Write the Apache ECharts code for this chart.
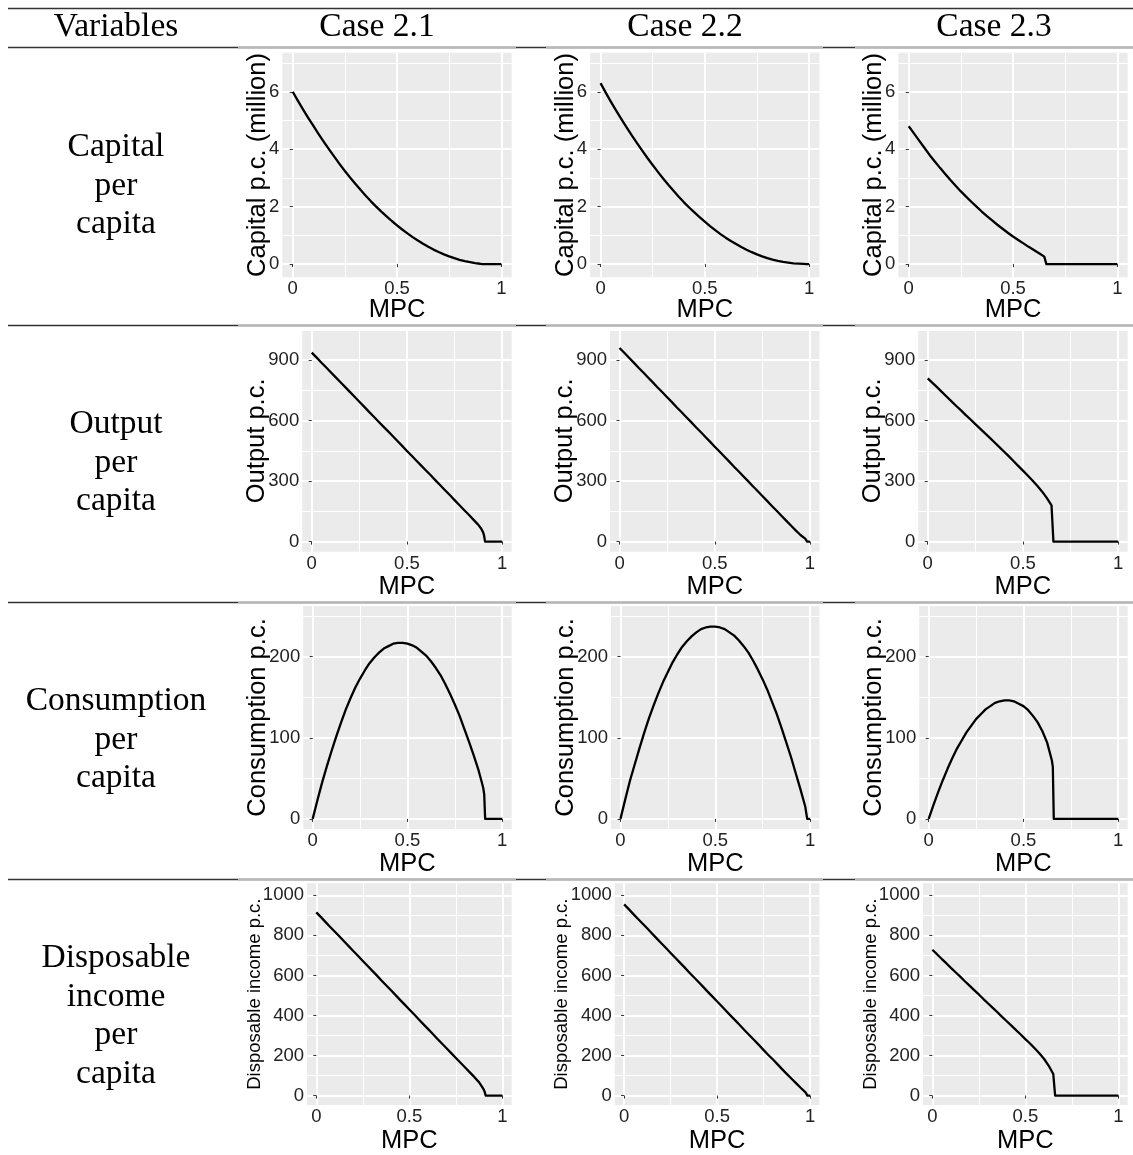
<!DOCTYPE html>
<html><head><meta charset="utf-8">
<script src="https://cdn.jsdelivr.net/npm/echarts@6/dist/echarts.min.js"></script>
<style>html,body{margin:0;padding:0;background:#fff;}#c{width:1133px;height:1155px;}</style>
</head><body><div id="c"></div>
<script>
// ---------- data ----------
const caseNames = ['Case 2.1', 'Case 2.2', 'Case 2.3'];
const headerLabel = 'Variables';
const variableLabels = [['Capital', 'per', 'capita'], ['Output', 'per', 'capita'], ['Consumption', 'per', 'capita'], ['Disposable', 'income', 'per', 'capita']];
const yTitles = ['Capital p.c. (million)', 'Output p.c.', 'Consumption p.c.', 'Disposable income p.c.'];
const xTitle = 'MPC';
const xTicks = [0, 0.5, 1];
const xMinorTicks = [0.25, 0.75];
const yTicks = [[0, 2, 4, 6], [0, 300, 600, 900], [0, 100, 200], [0, 200, 400, 600, 800, 1000]];
const yMinorTicks = [[1, 3, 5, 7], [150, 450, 750, 1050], [50, 150, 250], [100, 300, 500, 700, 900]];

// Case 2.1
const mpc21 = [0, 0.025, 0.05, 0.075, 0.1, 0.125, 0.15, 0.175, 0.2, 0.225, 0.25, 0.275, 0.3, 0.325, 0.35, 0.375, 0.4, 0.425, 0.45, 0.475, 0.5, 0.525, 0.55, 0.575, 0.6, 0.625, 0.65, 0.675, 0.7, 0.725, 0.75, 0.775, 0.8, 0.825, 0.85, 0.875, 0.89, 0.9, 0.905, 0.91, 0.95, 1];
const capital21 = [6.0, 5.685, 5.38, 5.085, 4.8, 4.52, 4.25, 3.985, 3.73, 3.48, 3.24, 3.015, 2.8, 2.585, 2.38, 2.185, 2.0, 1.825, 1.66, 1.5, 1.35, 1.205, 1.07, 0.94, 0.82, 0.705, 0.6, 0.505, 0.42, 0.34, 0.27, 0.205, 0.15, 0.105, 0.07, 0.035, 0.02, 0.01, 0.005, 0, 0, 0];
const output21 = [938, 914, 889, 865, 840, 816, 792, 768, 743, 719, 694, 670, 645, 621, 596, 572, 548, 524, 499, 475, 450, 426, 401, 377, 353, 329, 304, 280, 255, 231, 206, 182, 157, 133, 108, 83, 64, 46, 30, 0, 0, 0];
const consumption21 = [0, 23, 45, 65, 84, 102, 119, 135, 149, 162, 173, 183, 192, 199, 205, 210, 213, 216, 217, 217, 216, 214, 211, 206, 201, 194, 186, 177, 166, 154, 141, 127, 111, 95, 78, 60, 47, 38, 30, 0, 0, 0];
const disposable21 = [915, 891, 866, 842, 818, 794, 769, 745, 721, 697, 672, 648, 624, 600, 575, 551, 527, 503, 478, 454, 430, 406, 381, 357, 333, 309, 284, 260, 236, 212, 188, 164, 140, 116, 92, 66, 45, 30, 18, 0, 0, 0];

// Case 2.2
const mpc22 = [0, 0.025, 0.05, 0.075, 0.1, 0.125, 0.15, 0.175, 0.2, 0.225, 0.25, 0.275, 0.3, 0.325, 0.35, 0.375, 0.4, 0.425, 0.45, 0.475, 0.5, 0.525, 0.55, 0.575, 0.6, 0.625, 0.65, 0.675, 0.7, 0.725, 0.75, 0.775, 0.8, 0.825, 0.85, 0.875, 0.9, 0.925, 0.95, 0.975, 0.985, 1];
const capital22 = [6.3, 5.97, 5.65, 5.345, 5.05, 4.76, 4.48, 4.21, 3.95, 3.695, 3.45, 3.21, 2.98, 2.76, 2.55, 2.345, 2.15, 1.97, 1.8, 1.635, 1.48, 1.325, 1.18, 1.045, 0.92, 0.805, 0.7, 0.595, 0.5, 0.415, 0.34, 0.27, 0.21, 0.155, 0.11, 0.075, 0.05, 0.028, 0.015, 0.004, 0, 0];
const output22 = [961, 937, 912, 888, 863, 839, 814, 790, 765, 741, 716, 692, 667, 643, 618, 594, 569, 545, 520, 496, 471, 447, 422, 398, 373, 349, 324, 300, 275, 251, 226, 202, 177, 153, 128, 104, 80, 56, 33, 15, 0, 0];
const consumption22 = [0, 24, 47, 67, 87, 106, 124, 140, 155, 169, 181, 193, 203, 212, 219, 225, 230, 234, 236, 237, 237, 236, 234, 230, 226, 220, 213, 205, 195, 184, 172, 159, 144, 129, 112, 94, 76, 56, 36, 15, 0, 0];
const disposable22 = [955, 931, 906, 882, 858, 834, 809, 785, 761, 737, 712, 688, 664, 640, 615, 591, 567, 543, 518, 494, 470, 446, 421, 397, 373, 349, 324, 300, 276, 252, 227, 203, 180, 156, 131, 107, 84, 61, 38, 16, 0, 0];

// Case 2.3
const mpc23 = [0, 0.025, 0.05, 0.075, 0.1, 0.125, 0.15, 0.175, 0.2, 0.225, 0.25, 0.275, 0.3, 0.325, 0.35, 0.375, 0.4, 0.425, 0.45, 0.475, 0.5, 0.525, 0.55, 0.575, 0.6, 0.625, 0.65, 0.655, 0.66, 0.7, 0.8, 0.9, 1];
const capital23 = [4.8, 4.55, 4.3, 4.05, 3.8, 3.57, 3.35, 3.14, 2.93, 2.73, 2.53, 2.35, 2.17, 2.0, 1.83, 1.67, 1.52, 1.37, 1.23, 1.09, 0.96, 0.84, 0.72, 0.6, 0.49, 0.38, 0.26, 0.2, 0, 0, 0, 0, 0];
const output23 = [810, 788, 765, 742, 719, 696, 673, 651, 628, 606, 583, 561, 538, 516, 493, 470, 447, 424, 400, 376, 352, 328, 303, 277, 249, 217, 180, 172, 0, 0, 0, 0, 0];
const consumption23 = [0, 17, 33, 48, 62, 75, 87, 97, 107, 115, 123, 129, 135, 139, 143, 145, 146, 146, 145, 142, 139, 134, 127, 119, 108, 94, 72, 64, 0, 0, 0, 0, 0];
const disposable23 = [728, 706, 683, 661, 638, 616, 594, 571, 549, 527, 505, 482, 460, 438, 416, 393, 371, 349, 327, 305, 282, 260, 236, 211, 184, 150, 108, 100, 0, 0, 0, 0, 0];

const mpcByCase = [mpc21, mpc22, mpc23];
const seriesByRow = [
  [capital21, capital22, capital23],
  [output21, output22, output23],
  [consumption21, consumption22, consumption23],
  [disposable21, disposable22, disposable23]
];

// ---------- layout / style ----------
const SANS = '"Liberation Sans", Arial, Helvetica, sans-serif';
const SERIF = '"Liberation Serif", "Times New Roman", serif';
const colRight = [511.7, 819.5, 1127.7];
const rowLayout = [
  { top: 52.7, height: 224.6, width: 229.4, yMin: -0.46, yMax: 7.36, titleSize: 25.5, yNameGap: 11, xNameGap: 20 },
  { top: 330, height: 221.7, width: 209.5, yMin: -50, yMax: 1050, titleSize: 25.5, yNameGap: 32, xNameGap: 22 },
  { top: 606, height: 223, width: 208.5, yMin: -12.5, yMax: 262.5, titleSize: 25.5, yNameGap: 32, xNameGap: 22 },
  { top: 883.3, height: 222.2, width: 204.7, yMin: -47, yMax: 1060, titleSize: 18.5, yNameGap: 43, xNameGap: 23 }
];
const colCenters = [377, 685, 994];
const ruleYs = [47, 325, 602, 879];
const graySegs = [[238, 516], [546, 823], [855, 1133]];

const grids = [], xAxes = [], yAxes = [], series = [];
rowLayout.forEach((r, ri) => {
  for (let ci = 0; ci < 3; ci++) {
    const gi = grids.length;
    grids.push({
      left: colRight[ci] - r.width, top: r.top, width: r.width, height: r.height,
      show: true, backgroundColor: '#EBEBEB', borderWidth: 0
    });
    xAxes.push({
      gridIndex: gi, type: 'value', position: 'bottom', min: -0.05, max: 1.05,
      name: xTitle, nameLocation: 'middle', nameGap: r.xNameGap, nameMoveOverlap: false,
      nameTextStyle: { fontFamily: SANS, fontSize: 25.5, color: '#000' },
      axisLine: { show: false },
      axisTick: { show: true, length: 3, customValues: xTicks, lineStyle: { color: '#333', width: 1 } },
      axisLabel: { show: true, customValues: xTicks, margin: 2.5, fontFamily: SANS, fontSize: 18.5, color: '#222', formatter: v => String(v) },
      splitLine: { show: true, lineStyle: { color: '#fff', width: 2 } }
    });
    xAxes.push({
      gridIndex: gi, type: 'value', position: 'top', min: -0.05, max: 1.05,
      axisLine: { show: false }, axisLabel: { show: false },
      axisTick: { show: false, customValues: xMinorTicks },
      splitLine: { show: true, lineStyle: { color: '#fff', width: 1 } }
    });
    yAxes.push({
      gridIndex: gi, type: 'value', position: 'left', min: r.yMin, max: r.yMax,
      name: yTitles[ri], nameLocation: 'middle', nameRotate: 90, nameGap: r.yNameGap, nameMoveOverlap: false,
      nameTextStyle: { fontFamily: SANS, fontSize: r.titleSize, color: '#000' },
      axisLine: { show: false },
      axisTick: { show: true, length: 3, customValues: yTicks[ri], lineStyle: { color: '#333', width: 1 } },
      axisLabel: { show: true, customValues: yTicks[ri], margin: 3, fontFamily: SANS, fontSize: 18.5, color: '#222', formatter: v => String(v) },
      splitLine: { show: true, lineStyle: { color: '#fff', width: 2 } }
    });
    yAxes.push({
      gridIndex: gi, type: 'value', position: 'right', min: r.yMin, max: r.yMax,
      axisLine: { show: false }, axisLabel: { show: false },
      axisTick: { show: false, customValues: yMinorTicks[ri] },
      splitLine: { show: true, lineStyle: { color: '#fff', width: 1 } }
    });
    const xs = mpcByCase[ci], ys = seriesByRow[ri][ci];
    series.push({
      type: 'line', xAxisIndex: gi * 2, yAxisIndex: gi * 2,
      data: xs.map((x, k) => [x, ys[k]]),
      showSymbol: false, symbol: 'none', smooth: false, animation: false,
      lineStyle: { color: '#000', width: 2.3, join: 'round' }, silent: true, z: 5
    });
  }
});

const graphics = [];
graphics.push({ type: 'line', shape: { x1: 8, y1: 8.5, x2: 1133, y2: 8.5 }, style: { stroke: '#333', lineWidth: 1.3 } });
ruleYs.forEach(y => {
  graphics.push({ type: 'line', shape: { x1: 8, y1: y + 0.5, x2: 1133, y2: y + 0.5 }, style: { stroke: '#333', lineWidth: 1.3 } });
  graySegs.forEach(s => graphics.push({ type: 'line', shape: { x1: s[0], y1: y + 0.5, x2: s[1], y2: y + 0.5 }, style: { stroke: '#b8b8b8', lineWidth: 2 } }));
});
const textStyle = (txt, x, y) => ({ type: 'text', x: x, y: y, style: { text: txt, fontFamily: SERIF, fontSize: 33.5, fill: '#000', textAlign: 'center', textVerticalAlign: 'middle' } });
graphics.push(textStyle(headerLabel, 116, 27));
caseNames.forEach((c, i) => graphics.push(textStyle(c, colCenters[i], 27)));
const rowCenters = [186, 463, 740, 1016];
const lineStep = 38.5;
variableLabels.forEach((lines, ri) => {
  const n = lines.length;
  lines.forEach((t, k) => graphics.push(textStyle(t, 116, rowCenters[ri] + (k - (n - 1) / 2) * lineStep)));
});

const chart = echarts.init(document.getElementById('c'), null, { renderer: 'canvas' });
chart.setOption({
  animation: false,
  backgroundColor: '#fff',
  grid: grids, xAxis: xAxes, yAxis: yAxes, series: series,
  graphic: { elements: graphics }
});
</script></body></html>
